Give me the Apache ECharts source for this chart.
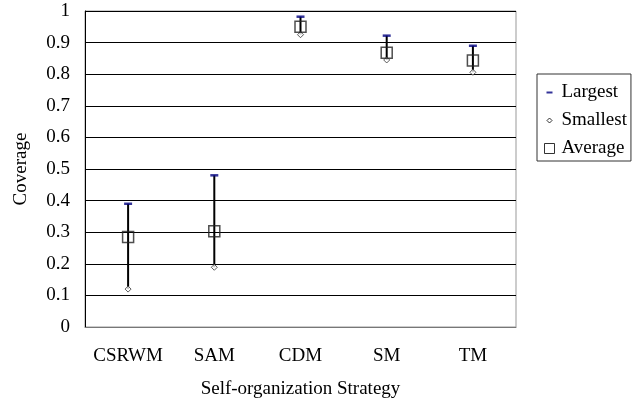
<!DOCTYPE html>
<html>
<head>
<meta charset="utf-8">
<script src="https://cdn.jsdelivr.net/npm/echarts@6/dist/echarts.min.js"></script>
<style>
html, body { margin: 0; padding: 0; background: #fff; }
#chart { width: 637px; height: 404px; }
</style>
</head>
<body>
<div id="chart"></div>
<script>
// values
var categories = ['CSRWM', 'SAM', 'CDM', 'SM', 'TM'];
var largest = [0.39, 0.48, 0.982, 0.922, 0.89];
var smallest = [0.12, 0.189, 0.925, 0.845, 0.806];
var average = [0.285, 0.303, 0.95, 0.868, 0.843];

var serif = '"Liberation Serif", "Times New Roman", serif';

var rangeData = categories.map(function (c, i) {
    return [i, smallest[i], largest[i]];
});

var chart = echarts.init(document.getElementById('chart'));
chart.setOption({
    animation: false,
    textStyle: { fontFamily: serif },
    grid: {
        left: 85, right: 121, top: 11, bottom: 77,
        outerBoundsMode: 'none',
        containLabel: false,
        show: true, borderColor: '#999', borderWidth: 1
    },
    legend: {
        orient: 'vertical',
        left: 537, top: 74,
        padding: [9, 4, 3, 5],
        itemGap: 9,
        itemWidth: 14, itemHeight: 14,
        backgroundColor: '#fff',
        borderColor: '#333', borderWidth: 1, borderRadius: 0,
        textStyle: { fontFamily: serif, fontSize: 19, color: '#000' },
        data: [
            { name: 'Largest', icon: 'path://M0,0M14,14M4,6h6v2h-6z', itemStyle: { color: '#000080' } },
            { name: 'Smallest', icon: 'path://M0,0M14,14M7,4.5L9.5,7L7,9.5L4.5,7Z', itemStyle: { color: '#fff', borderColor: '#000', borderWidth: 1 } },
            { name: 'Average', icon: 'path://M0,0M14,14M2,2h10v10h-10z', itemStyle: { color: '#fff', borderColor: '#000', borderWidth: 1 } }
        ]
    },
    xAxis: {
        type: 'category',
        data: categories,
        name: 'Self-organization Strategy',
        nameLocation: 'middle',
        nameGap: 53,
        nameTextStyle: { fontFamily: serif, fontSize: 19, color: '#000' },
        axisLine: { lineStyle: { color: '#777', width: 1 } },
        axisTick: { inside: true, length: 5, lineStyle: { color: '#555' } },
        axisLabel: { interval: 0, fontFamily: serif, fontSize: 19, color: '#000', margin: 20 },
        splitLine: { show: false }
    },
    yAxis: {
        type: 'value',
        min: 0, max: 1, interval: 0.1,
        name: 'Coverage',
        nameLocation: 'middle',
        nameRotate: 90,
        nameGap: 54,
        nameTextStyle: { fontFamily: serif, fontSize: 19, color: '#000' },
        axisLine: { show: true, lineStyle: { color: '#000', width: 1 } },
        axisTick: { show: false },
        axisLabel: { fontFamily: serif, fontSize: 19, color: '#000', margin: 15 },
        splitLine: { lineStyle: { color: '#000', width: 1 } }
    },
    series: [
        {
            type: 'custom',
            name: 'range',
            data: rangeData,
            z: 2,
            renderItem: function (params, api) {
                var lo = api.coord([api.value(0), api.value(1)]);
                var hi = api.coord([api.value(0), api.value(2)]);
                return {
                    type: 'line',
                    shape: { x1: lo[0], y1: lo[1], x2: hi[0], y2: hi[1] },
                    style: { stroke: '#000', lineWidth: 2 }
                };
            }
        },
        {
            type: 'scatter',
            name: 'Largest',
            data: largest,
            symbol: 'rect',
            symbolSize: [8, 2.5],
            itemStyle: { color: '#000080' },
            z: 3
        },
        {
            type: 'scatter',
            name: 'Smallest',
            data: smallest,
            symbol: 'diamond',
            symbolSize: 6,
            itemStyle: { color: '#fff', borderColor: '#333', borderWidth: 1 },
            z: 3
        },
        {
            type: 'scatter',
            name: 'Average',
            data: average,
            symbol: 'rect',
            symbolSize: 11,
            itemStyle: { color: 'rgba(0,0,0,0)', borderColor: '#222', borderWidth: 1.5 },
            z: 4
        }
    ]
});
</script>
</body>
</html>
